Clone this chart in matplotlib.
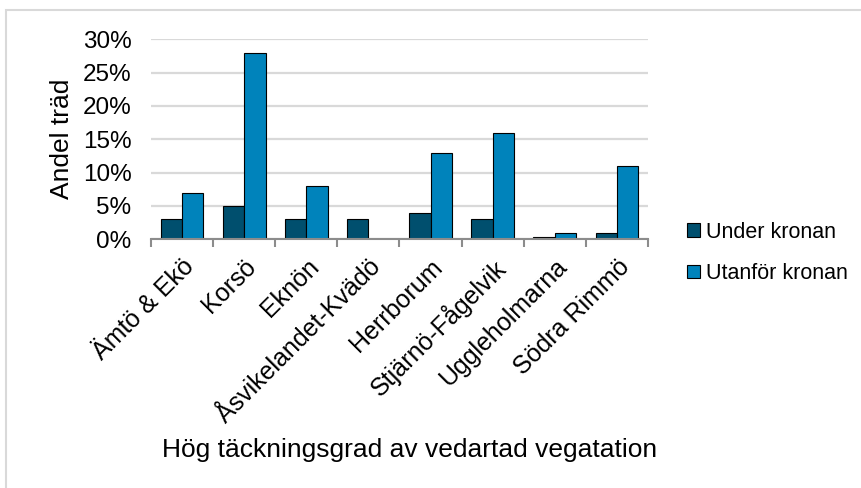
import matplotlib.pyplot as plt
import matplotlib.patches as mpatches
from matplotlib.ticker import FuncFormatter
import numpy as np

plt.rcParams['font.family'] = ['Liberation Sans', 'DejaVu Sans']

sites = ['Ämtö & Ekö', 'Korsö', 'Eknön', 'Åsvikelandet-Kvädö', 'Herrborum',
         'Stjärnö-Fågelvik', 'Uggleholmarna', 'Södra Rimmö']
under_kronan = [0.03, 0.05, 0.03, 0.03, 0.04, 0.03, 0.004, 0.01]
utanfor_kronan = [0.07, 0.28, 0.08, 0.0, 0.13, 0.16, 0.01, 0.11]

DARK = '#004f6e'
LIGHT = '#0083bb'
GRID = '#d9d9d9'
AXIS = '#8c8c8c'

fig = plt.figure(figsize=(8.62, 4.88), dpi=100)
# chart area border
fig.patches.append(mpatches.Rectangle((6 / 862, -0.2), 1.2, 1.2 - 10 / 488,
                                      transform=fig.transFigure, fill=False,
                                      edgecolor=GRID, linewidth=1.5))

ax = fig.add_axes([151 / 862, 1 - 239.3 / 488, 497 / 862, 200 / 488])

x = np.arange(len(sites))
w = 0.345
ax.bar(x - w / 2, under_kronan, w, color=DARK, edgecolor='black', linewidth=0.8,
       label='Under kronan', zorder=3)
ax.bar(x + w / 2, utanfor_kronan, w, color=LIGHT, edgecolor='black', linewidth=0.8,
       label='Utanför kronan', zorder=3)

ax.set_xlim(-0.5, len(sites) - 0.5)
ax.set_ylim(0, 0.30)
ax.set_yticks(np.arange(0, 0.301, 0.05))
ax.yaxis.set_major_formatter(FuncFormatter(lambda v, p: '%d%%' % round(v * 100)))
ax.yaxis.grid(True, color=GRID, linewidth=1.6, zorder=0)
ax.set_axisbelow(True)

for s in ['top', 'right', 'left']:
    ax.spines[s].set_visible(False)
ax.spines['bottom'].set_color(AXIS)
ax.spines['bottom'].set_linewidth(1.5)
ax.spines['bottom'].set_zorder(4)

ax.tick_params(axis='y', length=0, pad=14, labelsize=17.5)
ax.set_xticks(np.arange(-0.5, len(sites), 1.0))
ax.set_xticklabels([])
ax.tick_params(axis='x', which='major', length=6, width=1.5, color=AXIS)
ax.set_xticks(x, minor=True)
ax.set_xticklabels(sites, minor=True, rotation=45, ha='right', va='top',
                   rotation_mode='anchor', fontsize=18)
ax.tick_params(axis='x', which='minor', length=0, pad=11)

ax.set_ylabel('Andel träd', fontsize=19)
ax.yaxis.set_label_coords(-0.154, 0.5)
ax.set_xlabel('Hög täckningsgrad av vedartad vegatation', fontsize=19)
ax.xaxis.set_label_coords(0.521, -0.995)

handles = [mpatches.Patch(facecolor=DARK, edgecolor='black', linewidth=0.8),
           mpatches.Patch(facecolor=LIGHT, edgecolor='black', linewidth=0.8)]
fig.legend(handles, ['Under kronan', 'Utanför kronan'], loc='center left',
           bbox_to_anchor=(668 / 862, 1 - 253 / 488), frameon=False, fontsize=15.5,
           handlelength=0.6, handleheight=0.6, handletextpad=0.25, labelspacing=0.95)

fig.savefig('out.png', dpi=100)
